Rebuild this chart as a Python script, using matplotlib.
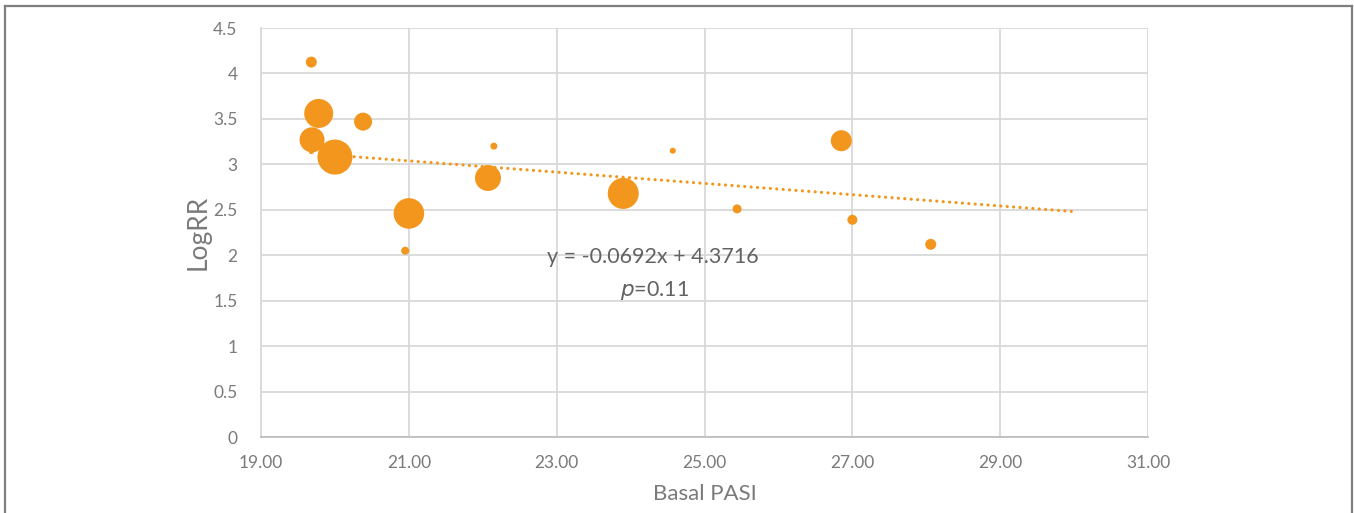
import matplotlib
matplotlib.use("Agg")
import matplotlib.pyplot as plt
from matplotlib.lines import Line2D

# bubble data
basal_pasi = [19.68, 19.78, 19.69, 20.38, 20.07, 19.68, 20.00, 21.00, 20.95,
              22.15, 22.07, 23.90, 24.57, 25.44, 26.85, 27.00, 28.06]
log_rr = [4.125, 3.56, 3.27, 3.47, 3.14, 3.14, 3.08, 2.46, 2.05,
          3.20, 2.85, 2.68, 3.15, 2.51, 3.26, 2.39, 2.12]
weight = [5.5, 14.5, 12.5, 9, 9.5, 2.5, 17.5, 15.3, 4,
          3.5, 13, 15.5, 3, 4.5, 10.5, 5, 5.5]

trend_x = [20.0, 30.0]
trend_y = [3.10, 2.48]

x_ticks = [19, 21, 23, 25, 27, 29, 31]
y_ticks = [0, 0.5, 1, 1.5, 2, 2.5, 3, 3.5, 4, 4.5]

orange = "#F2961E"
label_gray = "#7A7A7A"
text_gray = "#626262"
plt.rcParams['font.family'] = ['Lato', 'DejaVu Sans']

fig = plt.figure(figsize=(13.54, 5.13), dpi=100)
ax = fig.add_axes([0.1928, 0.1481, 0.8479 - 0.1928, 0.9454 - 0.1481])

# bubble radius in px -> marker area in pt^2
sizes = [(2 * r * 0.72) ** 2 for r in weight]
ax.scatter(basal_pasi, log_rr, s=sizes, color=orange, edgecolors="none", zorder=3)

ax.plot(trend_x, trend_y, color=orange, linewidth=2.3,
        linestyle=(0, (0.01, 2.0)), dash_capstyle="round", zorder=2)

ax.set_xlim(19, 31)
ax.set_ylim(0, 4.5)
ax.set_xticks(x_ticks)
ax.set_xticklabels([f"{t:.2f}" for t in x_ticks])
ax.set_yticks(y_ticks)
ax.set_yticklabels([f"{t:g}" for t in y_ticks])
ax.grid(True, color="#D9D9D9", linewidth=1.3)
ax.set_axisbelow(True)
for side in ["top", "right"]:
    ax.spines[side].set_visible(False)
ax.spines["left"].set_color("#D9D9D9")
ax.spines["left"].set_linewidth(1.3)
ax.spines["bottom"].set_color("#BFBFBF")
ax.spines["bottom"].set_linewidth(1.3)
ax.tick_params(length=0, labelcolor=label_gray, labelsize=12.5)
ax.tick_params(axis="x", pad=13)
ax.tick_params(axis="y", pad=17)

ax.set_xlabel("Basal PASI", fontsize=16, color=label_gray, labelpad=9)
ax.set_ylabel("LogRR", fontsize=19, color=label_gray, labelpad=2)

ax.text(24.3, 1.98, "y = -0.0692x + 4.3716", ha="center", va="center",
        fontsize=15.5, color=text_gray)
ax.text(24.32, 1.61, "$\\it{p}$=0.11", ha="center", va="center",
        fontsize=15.5, color=text_gray)

# outer frame, open at the bottom
frame = [Line2D([5 / 1354, 5 / 1354], [0, 1 - 6 / 513]),
         Line2D([5 / 1354, 1352 / 1354], [1 - 6 / 513, 1 - 6 / 513]),
         Line2D([1352 / 1354, 1352 / 1354], [1 - 6 / 513, 0])]
for ln in frame:
    ln.set_transform(fig.transFigure)
    ln.set_color("#7F7F7F")
    ln.set_linewidth(1.6)
    fig.add_artist(ln)

fig.savefig("out.png", dpi=100)
